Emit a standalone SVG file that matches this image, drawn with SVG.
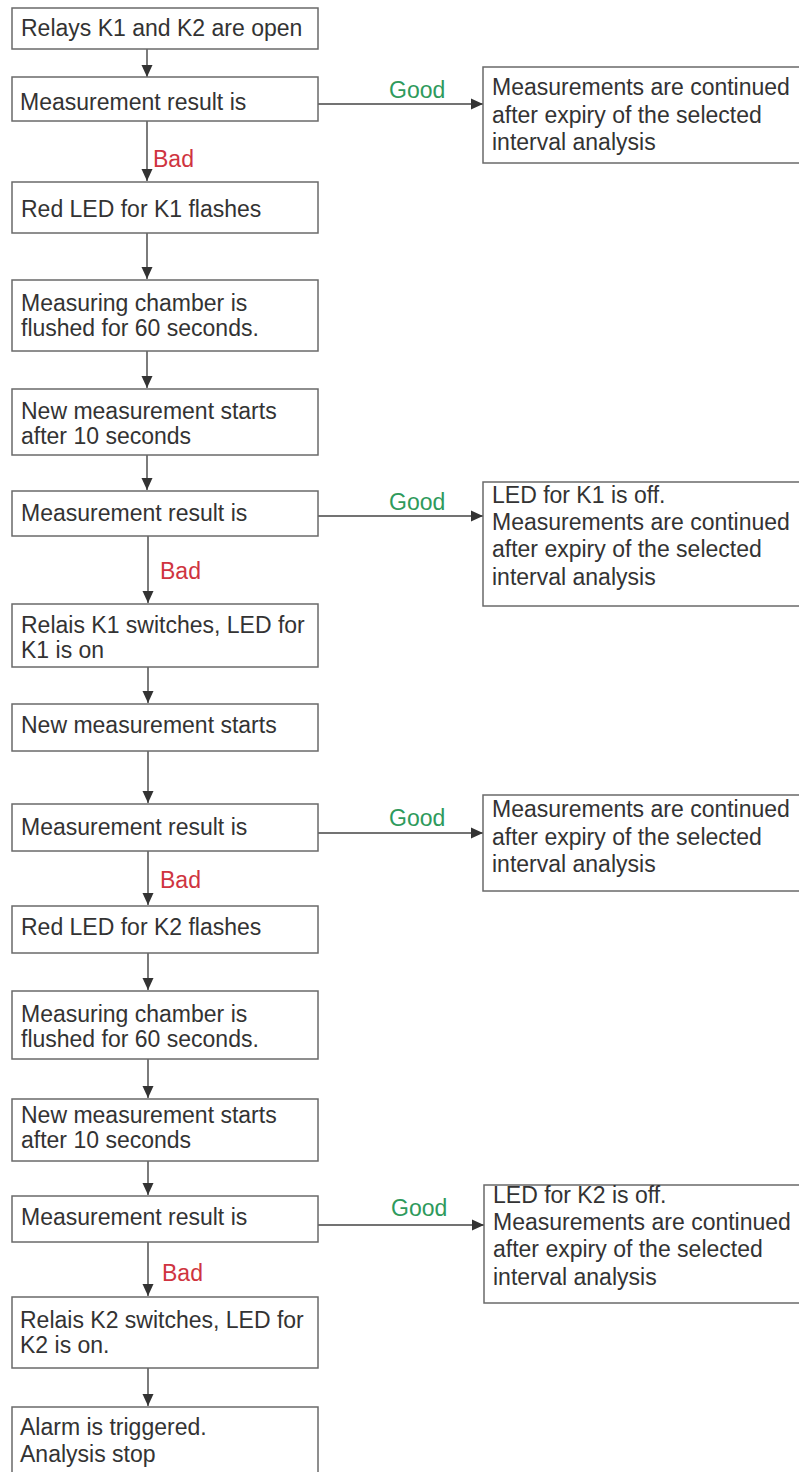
<svg xmlns="http://www.w3.org/2000/svg" width="799" height="1472" viewBox="0 0 799 1472">
<style>
.box{fill:#fff;stroke:#6a6a6a;stroke-width:1.5}
.t{font-family:"Liberation Sans",Arial,sans-serif;font-size:23px;fill:#333}
.good{font-family:"Liberation Sans",Arial,sans-serif;font-size:23px;fill:#2e9a5c}
.bad{font-family:"Liberation Sans",Arial,sans-serif;font-size:23px;fill:#cf3440}
.c{stroke:#444;stroke-width:1.4;fill:none;marker-end:url(#ah)}
</style>
<defs>
<marker id="ah" markerWidth="12" markerHeight="12" refX="12" refY="6" orient="auto" markerUnits="userSpaceOnUse">
<path d="M0,0.5 L12,6 L0,11.5 Z" fill="#333"/>
</marker>
</defs>
<rect width="799" height="1472" fill="#fff"/>
<g id="connectors">
<line class="c" x1="147" y1="49" x2="147" y2="77"/>
<line class="c" x1="147" y1="121" x2="147" y2="181"/>
<line class="c" x1="318" y1="104" x2="483" y2="104"/>
<line class="c" x1="147" y1="233" x2="147" y2="279"/>
<line class="c" x1="147" y1="351" x2="147" y2="388"/>
<line class="c" x1="147" y1="455" x2="147" y2="490"/>
<line class="c" x1="148" y1="536" x2="148" y2="603"/>
<line class="c" x1="318" y1="516" x2="483" y2="516"/>
<line class="c" x1="148" y1="667" x2="148" y2="703"/>
<line class="c" x1="148" y1="751" x2="148" y2="803"/>
<line class="c" x1="148" y1="851" x2="148" y2="905"/>
<line class="c" x1="318" y1="833" x2="483" y2="833"/>
<line class="c" x1="148" y1="953" x2="148" y2="990"/>
<line class="c" x1="148" y1="1059" x2="148" y2="1098"/>
<line class="c" x1="148" y1="1161" x2="148" y2="1195"/>
<line class="c" x1="148" y1="1242" x2="148" y2="1296"/>
<line class="c" x1="318" y1="1225" x2="484" y2="1225"/>
<line class="c" x1="148" y1="1368" x2="148" y2="1406"/>
<text class="good" x="389" y="98">Good</text>
<text class="bad" x="153" y="167">Bad</text>
<text class="good" x="389" y="510">Good</text>
<text class="bad" x="160" y="579">Bad</text>
<text class="good" x="389" y="826">Good</text>
<text class="bad" x="160" y="888">Bad</text>
<text class="good" x="391" y="1216">Good</text>
<text class="bad" x="162" y="1281">Bad</text>
</g>
<g id="n1"><rect class="box" x="12" y="8" width="306" height="41"/><text class="t" x="21" y="36">Relays K1 and K2 are open</text></g>
<g id="n2"><rect class="box" x="12" y="77" width="306" height="44"/><text class="t" x="20" y="110">Measurement result is</text></g>
<g id="r1"><rect class="box" x="483" y="67" width="330" height="96"/><text class="t" x="492" y="95">Measurements are continued</text><text class="t" x="492" y="123">after expiry of the selected</text><text class="t" x="492" y="150">interval analysis</text></g>
<g id="n3"><rect class="box" x="12" y="182" width="306" height="51"/><text class="t" x="21" y="217">Red LED for K1 flashes</text></g>
<g id="n4"><rect class="box" x="12" y="280" width="306" height="71"/><text class="t" x="21" y="311">Measuring chamber is</text><text class="t" x="21" y="336">flushed for 60 seconds.</text></g>
<g id="n5"><rect class="box" x="12" y="389" width="306" height="66"/><text class="t" x="21" y="419">New measurement starts</text><text class="t" x="21" y="444">after 10 seconds</text></g>
<g id="n6"><rect class="box" x="12" y="491" width="306" height="45"/><text class="t" x="21" y="521">Measurement result is</text></g>
<g id="r2"><rect class="box" x="483" y="482" width="330" height="124"/><text class="t" x="492" y="503">LED for K1 is off.</text><text class="t" x="492" y="530">Measurements are continued</text><text class="t" x="492" y="557">after expiry of the selected</text><text class="t" x="492" y="585">interval analysis</text></g>
<g id="n7"><rect class="box" x="12" y="604" width="306" height="63"/><text class="t" x="21" y="633">Relais K1 switches, LED for</text><text class="t" x="21" y="658">K1 is on</text></g>
<g id="n8"><rect class="box" x="12" y="704" width="306" height="47"/><text class="t" x="21" y="733">New measurement starts</text></g>
<g id="n9"><rect class="box" x="12" y="804" width="306" height="47"/><text class="t" x="21" y="835">Measurement result is</text></g>
<g id="r3"><rect class="box" x="483" y="795" width="330" height="96"/><text class="t" x="492" y="817">Measurements are continued</text><text class="t" x="492" y="845">after expiry of the selected</text><text class="t" x="492" y="872">interval analysis</text></g>
<g id="n10"><rect class="box" x="12" y="906" width="306" height="47"/><text class="t" x="21" y="935">Red LED for K2 flashes</text></g>
<g id="n11"><rect class="box" x="12" y="991" width="306" height="68"/><text class="t" x="21" y="1022">Measuring chamber is</text><text class="t" x="21" y="1047">flushed for 60 seconds.</text></g>
<g id="n12"><rect class="box" x="12" y="1099" width="306" height="62"/><text class="t" x="21" y="1123">New measurement starts</text><text class="t" x="21" y="1148">after 10 seconds</text></g>
<g id="n13"><rect class="box" x="12" y="1196" width="306" height="46"/><text class="t" x="21" y="1225">Measurement result is</text></g>
<g id="r4"><rect class="box" x="484" y="1185" width="330" height="118"/><text class="t" x="493" y="1203">LED for K2 is off.</text><text class="t" x="493" y="1230">Measurements are continued</text><text class="t" x="493" y="1257">after expiry of the selected</text><text class="t" x="493" y="1285">interval analysis</text></g>
<g id="n14"><rect class="box" x="12" y="1297" width="306" height="71"/><text class="t" x="20" y="1328">Relais K2 switches, LED for</text><text class="t" x="20" y="1353">K2 is on.</text></g>
<g id="n15"><rect class="box" x="12" y="1407" width="306" height="80"/><text class="t" x="20" y="1435">Alarm is triggered.</text><text class="t" x="20" y="1462">Analysis stop</text></g>
</svg>
